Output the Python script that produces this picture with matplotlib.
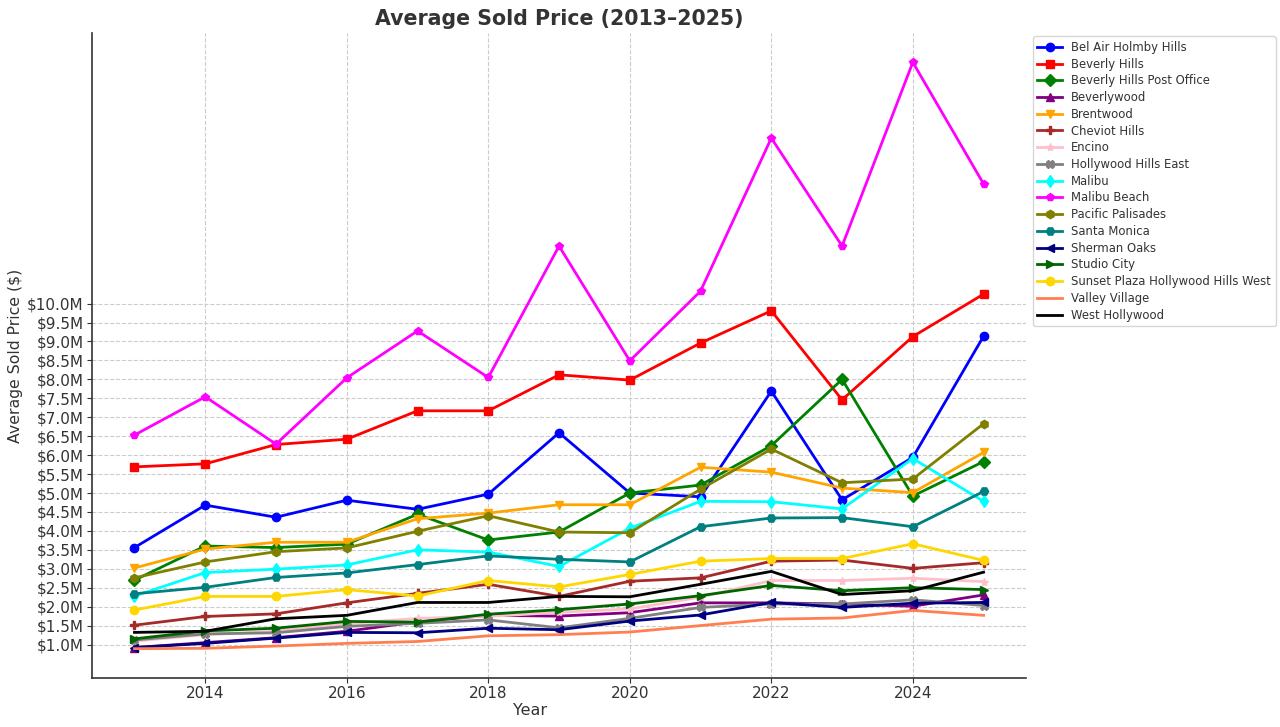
import matplotlib
matplotlib.use("Agg")
import matplotlib.pyplot as plt
from matplotlib.ticker import FuncFormatter
import numpy as np

years = list(range(2013, 2026))

neighborhoods = [
    "Bel Air Holmby Hills", "Beverly Hills", "Beverly Hills Post Office",
    "Beverlywood", "Brentwood", "Cheviot Hills", "Encino",
    "Hollywood Hills East", "Malibu", "Malibu Beach", "Pacific Palisades",
    "Santa Monica", "Sherman Oaks", "Studio City",
    "Sunset Plaza Hollywood Hills West", "Valley Village", "West Hollywood",
]

# Average sold price, millions of dollars
bel_air = [3.56, 4.68, 4.36, 4.81, 4.57, 4.97, 6.59, 5.00, 4.90, 7.69, 4.82, 5.94, 9.14]
beverly_hills = [5.69, 5.77, 6.28, 6.42, 7.17, 7.17, 8.12, 7.98, 8.96, 9.81, 7.46, 9.13, 10.25]
bhpo = [2.70, 3.60, 3.56, 3.65, 4.44, 3.76, 3.97, 5.00, 5.21, 6.25, 8.00, 4.92, 5.83]
beverlywood = [0.92, 1.05, 1.18, 1.35, 1.60, 1.77, 1.75, 1.84, 2.10, 2.10, 2.07, 2.01, 2.31]
brentwood = [3.02, 3.52, 3.70, 3.70, 4.32, 4.47, 4.69, 4.69, 5.68, 5.55, 5.13, 5.01, 6.07]
cheviot_hills = [1.51, 1.74, 1.81, 2.10, 2.35, 2.59, 2.27, 2.67, 2.76, 3.20, 3.23, 3.01, 3.16]
encino = [1.09, 1.26, 1.35, 1.55, 1.69, 1.74, 1.85, 1.94, 2.25, 2.69, 2.69, 2.75, 2.66]
hh_east = [1.12, 1.28, 1.31, 1.48, 1.56, 1.65, 1.44, 1.69, 1.98, 2.07, 2.07, 2.18, 2.03]
malibu = [2.28, 2.90, 2.99, 3.10, 3.50, 3.44, 3.06, 4.07, 4.78, 4.77, 4.58, 5.91, 4.78]
malibu_beach = [6.53, 7.54, 6.29, 8.04, 9.28, 8.05, 11.52, 8.49, 10.33, 14.37, 11.52, 16.37, 13.16]
pacific_palisades = [2.76, 3.18, 3.45, 3.55, 3.99, 4.40, 3.97, 3.95, 5.10, 6.16, 5.27, 5.37, 6.83]
santa_monica = [2.34, 2.51, 2.77, 2.89, 3.11, 3.34, 3.25, 3.18, 4.11, 4.34, 4.35, 4.11, 5.04]
sherman_oaks = [0.92, 1.03, 1.17, 1.32, 1.31, 1.43, 1.39, 1.62, 1.78, 2.11, 1.98, 2.09, 2.11]
studio_city = [1.15, 1.36, 1.43, 1.61, 1.59, 1.80, 1.92, 2.07, 2.29, 2.56, 2.42, 2.50, 2.45]
sunset_plaza = [1.91, 2.27, 2.27, 2.45, 2.28, 2.69, 2.52, 2.85, 3.20, 3.27, 3.27, 3.66, 3.22]
valley_village = [0.89, 0.90, 0.96, 1.03, 1.08, 1.23, 1.26, 1.33, 1.50, 1.67, 1.70, 1.90, 1.77]
west_hollywood = [1.32, 1.35, 1.68, 1.77, 2.11, 2.11, 2.27, 2.26, 2.59, 2.93, 2.32, 2.42, 2.91]

series = [bel_air, beverly_hills, bhpo, beverlywood, brentwood, cheviot_hills,
          encino, hh_east, malibu, malibu_beach, pacific_palisades, santa_monica,
          sherman_oaks, studio_city, sunset_plaza, valley_village, west_hollywood]

colors = ["blue", "red", "green", "purple", "orange", "brown", "pink", "gray",
          "cyan", "magenta", "olive", "teal", "navy", "darkgreen", "gold",
          "coral", "black"]
markers = ["o", "s", "D", "^", "v", "P", "*", "X", "d", "p", "h", "H", "<", ">",
           "o", "", ""]

y_ticks = np.arange(1.0, 10.01, 0.5)
x_ticks = [2014, 2016, 2018, 2020, 2022, 2024]

plt.rcParams["font.family"] = ["DejaVu Sans"]
text_color = "#333333"

fig = plt.figure(figsize=(12.8, 7.27), dpi=100)
ax = fig.add_axes([0.0719, 0.0674, 0.7297, 0.8872])

for name, vals, c, m in zip(neighborhoods, series, colors, markers):
    ax.plot(years, vals, color=c, marker=m if m else None, markersize=6,
            linewidth=2, label=name)

ax.set_yticks(y_ticks)
ax.yaxis.set_major_formatter(FuncFormatter(lambda v, p: f"${v:.1f}M"))
ax.set_xticks(x_ticks)

ax.grid(True, linestyle="--", color="#cccccc", linewidth=0.8)
ax.set_axisbelow(True)
for s in ["top", "right"]:
    ax.spines[s].set_visible(False)
for s in ["left", "bottom"]:
    ax.spines[s].set_color(text_color)
    ax.spines[s].set_linewidth(1.2)
ax.tick_params(axis="both", labelsize=11, colors=text_color, pad=2.5)

ax.set_title("Average Sold Price (2013\u20132025)", fontsize=14.8, fontweight="bold",
             color=text_color, pad=6)
ax.set_xlabel("Year", fontsize=11.5, color=text_color)
ax.set_ylabel("Average Sold Price ($)", fontsize=11.3, color=text_color)
ax.xaxis.set_label_coords(0.469, -0.039)
ax.yaxis.set_label_coords(-0.074, 0.5)

leg = ax.legend(loc="upper left", bbox_to_anchor=(1.007, 0.995), fontsize=8.4,
                labelspacing=0.32, frameon=True, borderaxespad=0,
                handlelength=2.1)
for t in leg.get_texts():
    t.set_color(text_color)

fig.savefig("out.png", dpi=100)
